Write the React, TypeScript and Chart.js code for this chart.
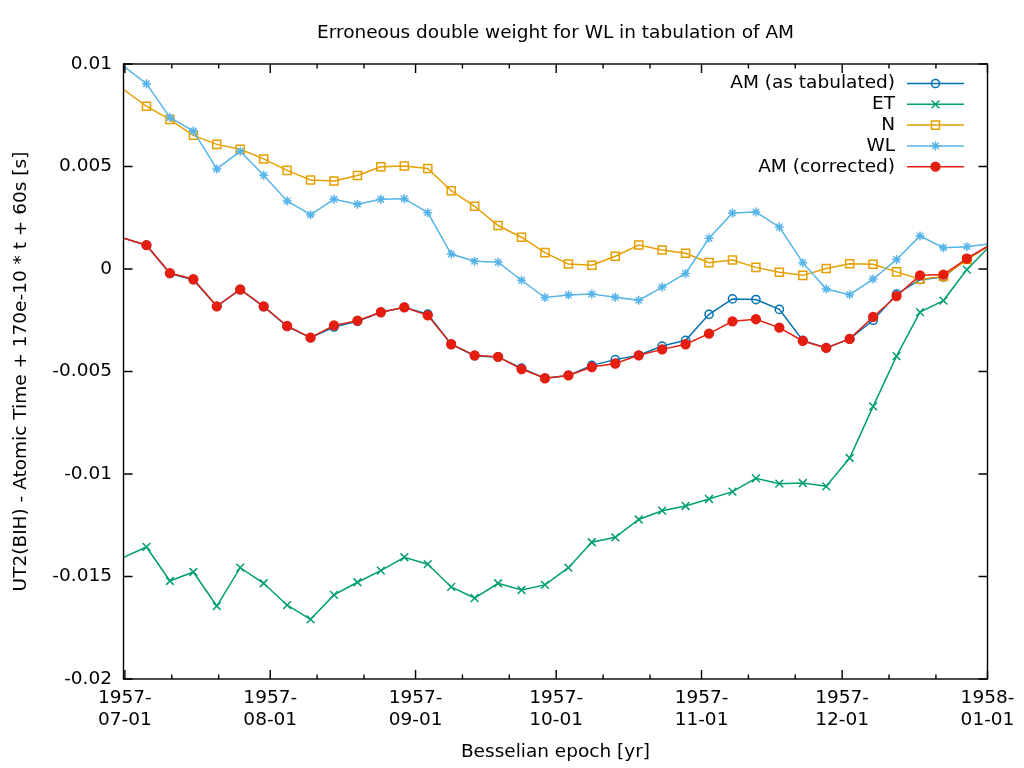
import React, { useEffect, useRef } from "react";
import { Chart, registerables } from "chart.js";

Chart.register(...registerables);

const TITLE = "Erroneous double weight for WL in tabulation of AM";
const X_TITLE = "Besselian epoch [yr]";
const Y_TITLE = "UT2(BIH) - Atomic Time + 170e-10 * t + 60s [s]";

// Epochs of the tabulated values, in days since 1957-07-01 0h
const EPOCH_DAYS = [
  -0.4, 4.6, 9.6, 14.6, 19.6, 24.6, 29.6, 34.6, 39.6, 44.6, 49.6, 54.6, 59.6,
  64.6, 69.6, 74.6, 79.6, 84.6, 89.6, 94.6, 99.6, 104.6, 109.6, 114.6, 119.6,
  124.6, 129.6, 134.6, 139.6, 144.6, 149.6, 154.6, 159.6, 164.6, 169.6, 174.6,
  179.6, 184.6,
];

const AM_TABULATED = [
  0.00151, 0.00116, -0.00022, -0.00052, -0.00182, -0.001, -0.00184, -0.0028,
  -0.00335, -0.00283, -0.00255, -0.00211, -0.00187, -0.0022, -0.00367, -0.00424,
  -0.00429, -0.00484, -0.00533, -0.00519, -0.0047, -0.00442, -0.00421, -0.00376,
  -0.00348, -0.00221, -0.00146, -0.00149, -0.00197, -0.00348, -0.00385, -0.00341,
  -0.0025, -0.00123, -0.00052, -0.00039, 0.00051, 0.00118,
];

const ET = [
  -0.01408, -0.01356, -0.01522, -0.01478, -0.01644, -0.01457, -0.01533, -0.0164,
  -0.01709, -0.0159, -0.01528, -0.01471, -0.01406, -0.0144, -0.01551, -0.01605,
  -0.01533, -0.01566, -0.01541, -0.01457, -0.01333, -0.01309, -0.01222, -0.01179,
  -0.01156, -0.01122, -0.01086, -0.01021, -0.01047, -0.01044, -0.0106, -0.00922,
  -0.0067, -0.00425, -0.0021, -0.00154, -0.00003, 0.00114,
];

const N = [
  0.00878, 0.00794, 0.00729, 0.00652, 0.00608, 0.00584, 0.00537, 0.00481,
  0.00434, 0.00429, 0.00456, 0.00499, 0.00502, 0.0049, 0.00382, 0.00306,
  0.00212, 0.00155, 0.0008, 0.00024, 0.00018, 0.00062, 0.00117, 0.00093,
  0.00077, 0.00031, 0.00044, 0.00008, -0.00016, -0.00031, 0.00002, 0.00026,
  0.00023, -0.00014, -0.0005, -0.00036, 0.00046, 0.00118,
];

const WL = [
  0.00991, 0.00904, 0.00739, 0.00673, 0.00488, 0.00574, 0.00457, 0.00332,
  0.00265, 0.0034, 0.00316, 0.0034, 0.00343, 0.00275, 0.00073, 0.00038,
  0.00033, -0.00055, -0.00139, -0.00127, -0.00122, -0.00138, -0.00153, -0.00088,
  -0.00022, 0.0015, 0.00273, 0.00278, 0.00205, 0.00031, -0.00098, -0.00125,
  -0.00049, 0.00046, 0.00161, 0.00104, 0.00109, 0.00123,
];

const AM_CORRECTED = [
  0.00151, 0.00116, -0.0002, -0.0005, -0.00182, -0.001, -0.00182, -0.00278,
  -0.00335, -0.00275, -0.00252, -0.00211, -0.00187, -0.00226, -0.00367, -0.00421,
  -0.00429, -0.00488, -0.00533, -0.00519, -0.00478, -0.00461, -0.00421, -0.00392,
  -0.00367, -0.00315, -0.00255, -0.00245, -0.00286, -0.00351, -0.00385, -0.00341,
  -0.00234, -0.00132, -0.00031, -0.00027, 0.00051, 0.00118,
];

const SERIES_LABELS = ["AM (as tabulated)", "ET", "N", "WL", "AM (corrected)"];

// x axis: days since 1957-07-01
const X_MIN = -0.3;
const X_MAX = 184;
const X_MAJOR = [0, 31, 62, 92, 123, 153, 184];
const X_MINOR = [10, 20, 41, 51, 72, 82, 102, 112, 133, 143, 163, 173];
const X_TICK_LABELS = [
  ["1957-", "07-01"],
  ["1957-", "08-01"],
  ["1957-", "09-01"],
  ["1957-", "10-01"],
  ["1957-", "11-01"],
  ["1957-", "12-01"],
  ["1958-", "01-01"],
];

const Y_MIN = -0.02;
const Y_MAX = 0.01;
const Y_TICKS = [-0.02, -0.015, -0.01, -0.005, 0, 0.005, 0.01];
const Y_TICK_LABELS = ["-0.02", "-0.015", "-0.01", "-0.005", "0", "0.005", "0.01"];

const FONT = "'DejaVu Sans', sans-serif";
const FONT_SIZE = 18.5;

type Style = {
  color: string;
  point: string;
  radius: number;
  filled: boolean;
};

const STYLES: Style[] = [
  { color: "#0072b2", point: "circle", radius: 4.1, filled: false },
  { color: "#009e73", point: "crossRot", radius: 5.5, filled: false },
  { color: "#e69f00", point: "rect", radius: 5.7, filled: false },
  { color: "#56b4e9", point: "star", radius: 4.5, filled: false },
  { color: "#e51e10", point: "circle", radius: 4.4, filled: true },
];

function drawMarker(
  ctx: CanvasRenderingContext2D,
  s: Style,
  x: number,
  y: number
) {
  const r = s.radius;
  ctx.save();
  ctx.strokeStyle = s.color;
  ctx.fillStyle = s.color;
  ctx.lineWidth = 1.5;
  ctx.beginPath();
  if (s.point === "circle") {
    ctx.arc(x, y, r, 0, Math.PI * 2);
    if (s.filled) ctx.fill();
    ctx.stroke();
  } else if (s.point === "rect") {
    const h = r * Math.SQRT1_2;
    ctx.rect(x - h, y - h, 2 * h, 2 * h);
    ctx.stroke();
  } else if (s.point === "crossRot") {
    const h = r * Math.SQRT1_2;
    ctx.moveTo(x - h, y - h);
    ctx.lineTo(x + h, y + h);
    ctx.moveTo(x - h, y + h);
    ctx.lineTo(x + h, y - h);
    ctx.stroke();
  } else if (s.point === "star") {
    const h = r * Math.SQRT1_2;
    ctx.moveTo(x - r, y);
    ctx.lineTo(x + r, y);
    ctx.moveTo(x, y - r);
    ctx.lineTo(x, y + r);
    ctx.moveTo(x - h, y - h);
    ctx.lineTo(x + h, y + h);
    ctx.moveTo(x - h, y + h);
    ctx.lineTo(x + h, y - h);
    ctx.stroke();
  }
  ctx.restore();
}

const framePlugin = {
  id: "gnuplotFrame",
  afterDraw(chart: any) {
    const ctx: CanvasRenderingContext2D = chart.ctx;
    const a = chart.chartArea;
    const xs = chart.scales.x;
    const ys = chart.scales.y;
    ctx.save();
    // border
    ctx.strokeStyle = "#000";
    ctx.lineWidth = 1.4;
    ctx.strokeRect(a.left, a.top, a.right - a.left, a.bottom - a.top);
    // ticks
    ctx.beginPath();
    const major = 9;
    const minor = 4.5;
    for (const v of Y_TICKS) {
      const p = ys.getPixelForValue(v);
      ctx.moveTo(a.left, p);
      ctx.lineTo(a.left + major, p);
      ctx.moveTo(a.right, p);
      ctx.lineTo(a.right - major, p);
    }
    for (const v of X_MAJOR) {
      const p = xs.getPixelForValue(v);
      ctx.moveTo(p, a.bottom);
      ctx.lineTo(p, a.bottom - major);
      ctx.moveTo(p, a.top);
      ctx.lineTo(p, a.top + major);
    }
    for (const v of X_MINOR) {
      const p = xs.getPixelForValue(v);
      ctx.moveTo(p, a.bottom);
      ctx.lineTo(p, a.bottom - minor);
      ctx.moveTo(p, a.top);
      ctx.lineTo(p, a.top + minor);
    }
    ctx.stroke();

    // titles
    ctx.fillStyle = "#000";
    ctx.font = `${FONT_SIZE}px ${FONT}`;
    ctx.textAlign = "center";
    ctx.textBaseline = "middle";
    const cx = (a.left + a.right) / 2;
    ctx.fillText(TITLE, cx, 33);
    ctx.fillText(X_TITLE, cx, 752);
    ctx.save();
    ctx.translate(21, (a.top + a.bottom) / 2);
    ctx.rotate(-Math.PI / 2);
    ctx.fillText(Y_TITLE, 0, 0);
    ctx.restore();

    // legend
    ctx.textAlign = "right";
    for (let i = 0; i < SERIES_LABELS.length; i++) {
      const y = 83.5 + i * 20.8;
      const s = STYLES[i];
      ctx.fillStyle = "#000";
      ctx.fillText(SERIES_LABELS[i], 895, y);
      ctx.strokeStyle = s.color;
      ctx.lineWidth = 1.5;
      ctx.beginPath();
      ctx.moveTo(907, y);
      ctx.lineTo(964, y);
      ctx.stroke();
      drawMarker(ctx, s, 935.5, y);
    }
    ctx.restore();
  },
};

export default function App() {
  const canvasRef = useRef<HTMLCanvasElement | null>(null);

  useEffect(() => {
    const canvas = canvasRef.current;
    if (!canvas) return;
    const series = [AM_TABULATED, ET, N, WL, AM_CORRECTED];
    const inRange = (c: any, r: number) => {
      if (c.type !== "data" || !c.raw) return r;
      const x = c.raw.x;
      return x >= X_MIN && x <= X_MAX ? r : 0;
    };
    const datasets = series.map((vals, i) => {
      const s = STYLES[i];
      return {
        label: SERIES_LABELS[i],
        data: vals.map((v, k) => ({ x: EPOCH_DAYS[k], y: v })),
        borderColor: s.color,
        backgroundColor: s.color,
        borderWidth: 1.5,
        pointStyle: s.point,
        pointRadius: (c: any) => inRange(c, s.radius),
        pointBorderWidth: 1.5,
        pointBorderColor: s.color,
        pointBackgroundColor: s.filled ? s.color : "rgba(0,0,0,0)",
        fill: false,
        tension: 0,
        clip: 0,
        order: 5 - i,
      };
    });

    const chart = new Chart(canvas, {
      type: "line",
      data: { datasets },
      options: {
        animation: false,
        responsive: false,
        devicePixelRatio: 1,
        layout: { padding: { left: 0, right: 36.5, top: 64, bottom: 0 } },
        plugins: {
          legend: { display: false },
          title: { display: false },
          tooltip: { enabled: false },
        },
        scales: {
          x: {
            type: "linear",
            min: X_MIN,
            max: X_MAX,
            grid: { display: false, drawTicks: false },
            border: { display: false },
            afterBuildTicks: (scale: any) => {
              scale.ticks = X_MAJOR.map((v) => ({ value: v }));
            },
            afterFit: (scale: any) => {
              scale.height = 89;
            },
            ticks: {
              autoSkip: false,
              maxRotation: 0,
              minRotation: 0,
              padding: 8,
              color: "#000",
              font: { family: FONT, size: FONT_SIZE, lineHeight: 1.2 },
              callback: (_v: any, i: number) => X_TICK_LABELS[i],
            },
          },
          y: {
            type: "linear",
            min: Y_MIN,
            max: Y_MAX,
            grid: { display: false, drawTicks: false },
            border: { display: false },
            afterBuildTicks: (scale: any) => {
              scale.ticks = Y_TICKS.map((v) => ({ value: v }));
            },
            afterFit: (scale: any) => {
              scale.width = 123.5;
            },
            ticks: {
              autoSkip: false,
              padding: 11.5,
              color: "#000",
              font: { family: FONT, size: FONT_SIZE },
              callback: (_v: any, i: number) => Y_TICK_LABELS[i],
            },
          },
        },
      },
      plugins: [framePlugin],
    } as any);

    return () => chart.destroy();
  }, []);

  return (
    <div
      style={{
        position: "absolute",
        left: 0,
        top: 0,
        width: 1024,
        height: 768,
        background: "#fff",
      }}
    >
      <canvas
        ref={canvasRef}
        width={1024}
        height={768}
        style={{ display: "block", width: 1024, height: 768 }}
      />
    </div>
  );
}
